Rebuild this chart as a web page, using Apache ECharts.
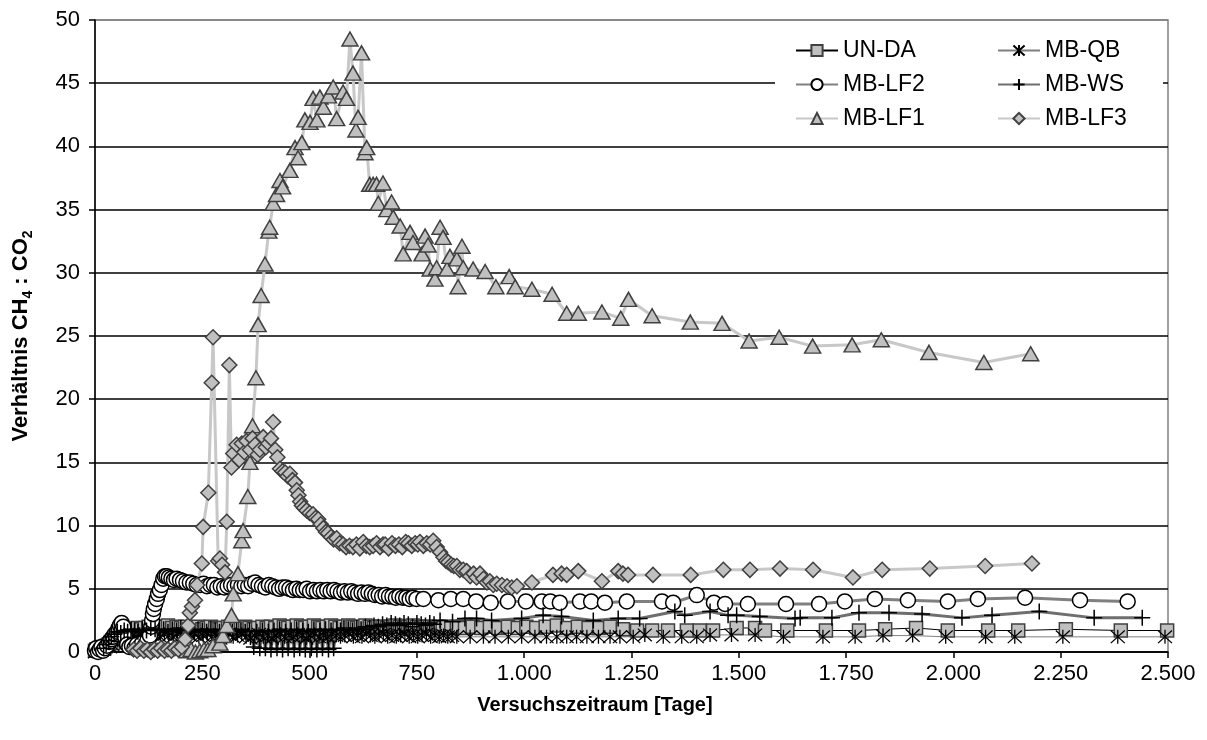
<!DOCTYPE html>
<html>
<head>
<meta charset="utf-8">
<script src="https://cdn.jsdelivr.net/npm/echarts@6/dist/echarts.min.js"></script>
<style>
html,body{margin:0;padding:0;background:#fff;}
#chart{width:1207px;height:740px;}
</style>
</head>
<body>
<div id="chart"></div>
<script>
// ---- data: [Tage, Verhältnis CH4:CO2] ----
const xTicks = [0,250,500,750,1000,1250,1500,1750,2000,2250,2500];
const seriesNames = ['UN-DA','MB-QB','MB-LF2','MB-WS','MB-LF1','MB-LF3'];
const xTitle = 'Versuchszeitraum [Tage]';

const unDA = [[0,0.1],[3,0.2],[6,0.1],[10,0.3],[14,0.2],[18,0.4],[22,0.3],[27,0.5],[32,0.6],[37,0.8],[42,0.7],[48,1.0],[54,1.1],[60,1.3],[66,1.2],[72,1.5],[78,1.6],[85,1.7],[92,1.8],[100,1.9],[108,1.8],[116,1.9],[125,2.0],[134,1.9],[143,2.0],[152,1.9],[161,2.0],[170,2.1],[180,1.9],[190,2.0],[200,1.9],[210,2.0],[220,1.8],[230,1.9],[240,2.0],[250,1.8],[260,1.9],[270,2.0],[280,1.9],[290,1.8],[300,1.9],[310,2.0],[320,1.9],[330,1.8],[340,1.9],[350,2.0],[360,1.9],[370,1.8],[380,1.9],[390,2.0],[400,1.9],[410,2.0],[420,1.9],[430,2.1],[440,2.0],[450,1.9],[460,2.0],[470,2.1],[480,2.0],[490,1.9],[500,2.0],[510,2.1],[520,2.0],[530,1.9],[540,2.0],[550,2.1],[560,2.0],[570,1.9],[580,2.0],[590,2.1],[600,2.0],[610,1.9],[620,2.0],[630,2.1],[640,2.0],[650,1.9],[660,2.0],[670,2.0],[680,1.9],[690,2.0],[700,2.1],[710,2.0],[720,1.9],[730,2.0],[740,2.1],[750,2.0],[760,1.9],[770,2.0],[780,2.0],[790,1.9],[800,2.0],[810,1.9],[820,2.0],[830,1.9],[843,2.0],[862,1.9],[880,2.0],[900,1.9],[920,2.0],[940,1.9],[962,2.0],[985,1.9],[1005,2.0],[1028,1.9],[1050,2.0],[1076,2.1],[1100,1.9],[1125,2.0],[1150,1.9],[1175,1.9],[1200,2.0],[1230,1.8],[1263,1.7],[1298,1.7],[1335,1.7],[1379,1.7],[1409,1.7],[1440,1.7],[1495,1.9],[1538,1.9],[1561,1.7],[1613,1.7],[1703,1.7],[1780,1.7],[1841,1.8],[1913,1.9],[1987,1.7],[2081,1.7],[2151,1.7],[2262,1.8],[2390,1.7],[2498,1.7]];

const mbQB = [[0,0.0],[4,0.1],[8,0.2],[12,0.1],[16,0.3],[20,0.2],[25,0.4],[30,0.5],[35,0.4],[40,0.6],[46,0.8],[52,0.9],[58,1.0],[65,1.1],[72,1.2],[80,1.1],[88,1.3],[96,1.2],[104,1.4],[112,1.3],[122,1.2],[132,1.4],[142,1.3],[152,1.2],[162,1.4],[172,1.3],[182,1.2],[192,1.4],[202,1.3],[212,1.1],[222,1.3],[232,1.4],[242,1.2],[252,1.3],[262,1.4],[272,1.2],[282,1.3],[292,1.1],[302,1.3],[312,1.4],[322,1.2],[332,1.3],[342,1.4],[352,1.2],[362,1.1],[372,1.3],[382,1.4],[392,1.2],[402,1.3],[412,1.1],[422,1.3],[432,1.4],[442,1.2],[452,1.3],[462,1.2],[472,1.4],[482,1.3],[492,1.1],[502,1.3],[512,1.4],[522,1.2],[532,1.3],[542,1.2],[552,1.4],[562,1.3],[572,1.2],[582,1.3],[592,1.4],[602,1.2],[612,1.3],[622,1.2],[632,1.4],[642,1.3],[652,1.2],[662,1.3],[672,1.4],[682,1.2],[692,1.3],[702,1.2],[712,1.3],[722,1.4],[732,1.2],[742,1.3],[752,1.2],[762,1.3],[772,1.4],[782,1.2],[792,1.3],[802,1.2],[812,1.3],[822,1.2],[832,1.3],[843,1.2],[874,1.2],[905,1.2],[932,1.2],[963,1.2],[994,1.2],[1025,1.2],[1052,1.2],[1076,1.2],[1099,1.2],[1122,1.2],[1146,1.2],[1173,1.2],[1200,1.2],[1223,1.2],[1254,1.2],[1281,1.35],[1324,1.2],[1367,1.2],[1402,1.2],[1433,1.35],[1483,1.35],[1538,1.35],[1604,1.2],[1696,1.2],[1771,1.2],[1836,1.3],[1905,1.3],[1982,1.2],[2075,1.2],[2143,1.2],[2255,1.2],[2383,1.2],[2493,1.2]];

const mbLF2 = [[0,0.1],[3,0.3],[7,0.0],[11,0.2],[15,0.4],[19,0.1],[23,0.3],[28,0.5],[33,0.8],[38,1.0],[42,1.2],[46,1.4],[51,1.6],[55,1.9],[58,2.1],[62,2.3],[66,2.0],[70,1.2],[75,0.6],[80,0.4],[86,0.5],[92,0.3],[98,0.6],[104,0.4],[110,0.7],[116,0.5],[122,0.9],[128,1.3],[131,2.0],[133,2.5],[135,3.0],[137,3.4],[140,3.8],[144,4.2],[147,4.6],[151,4.9],[155,5.3],[159,5.8],[163,6.0],[167,6.0],[172,5.9],[178,5.8],[184,5.7],[190,5.8],[198,5.7],[205,5.6],[213,5.5],[221,5.5],[229,5.4],[237,5.3],[245,5.3],[253,5.4],[261,5.2],[269,5.3],[277,5.3],[285,5.1],[293,5.2],[301,5.1],[309,5.2],[317,5.3],[325,5.2],[333,5.3],[341,5.2],[349,5.3],[357,5.2],[365,5.4],[373,5.5],[381,5.3],[389,5.2],[397,5.1],[405,5.3],[413,5.2],[421,5.1],[429,5.0],[437,5.1],[445,5.1],[453,5.0],[461,4.9],[469,5.0],[477,4.9],[485,4.9],[493,5.0],[501,4.8],[509,4.9],[517,4.8],[525,4.9],[533,4.8],[541,4.9],[549,4.8],[557,4.9],[565,4.8],[573,4.7],[581,4.8],[589,4.7],[597,4.8],[605,4.7],[613,4.6],[621,4.7],[629,4.6],[637,4.7],[645,4.6],[653,4.5],[661,4.5],[669,4.4],[677,4.5],[685,4.4],[693,4.4],[701,4.3],[709,4.4],[717,4.3],[725,4.3],[733,4.2],[741,4.3],[749,4.2],[765,4.2],[800,4.1],[829,4.2],[858,4.2],[888,4.0],[922,3.9],[962,4.0],[1004,4.0],[1041,4.0],[1061,4.0],[1083,3.9],[1130,4.0],[1156,4.0],[1188,3.9],[1239,4.0],[1321,4.0],[1347,3.9],[1402,4.5],[1442,3.9],[1468,3.8],[1521,3.8],[1610,3.8],[1687,3.8],[1747,4.0],[1817,4.2],[1894,4.1],[1987,4.0],[2057,4.2],[2167,4.3],[2295,4.1],[2406,4.0]];

const mbWS = [[20,0.3],[26,0.6],[32,0.9],[38,1.2],[45,1.4],[52,1.6],[60,1.5],[68,1.7],[76,1.6],[84,1.8],[92,1.7],[100,1.6],[110,1.8],[120,1.7],[130,1.9],[140,1.8],[150,1.7],[160,1.8],[170,1.6],[180,1.8],[190,1.7],[200,1.9],[210,1.8],[220,1.7],[230,1.6],[240,1.8],[250,1.7],[260,1.6],[270,1.8],[280,1.7],[290,1.6],[300,1.7],[310,1.8],[320,1.6],[330,1.7],[340,1.8],[350,1.6],[360,1.7],[370,0.4],[377,1.6],[384,0.3],[390,1.7],[397,0.3],[404,1.6],[410,0.2],[417,1.7],[424,0.3],[430,1.8],[437,0.2],[444,1.6],[450,0.3],[457,1.7],[464,0.2],[470,1.8],[477,0.3],[484,1.7],[490,0.2],[497,1.6],[504,0.3],[510,1.8],[517,0.2],[524,1.7],[530,0.3],[537,1.8],[544,0.2],[550,1.7],[556,0.3],[563,1.8],[572,1.7],[580,1.9],[590,1.8],[600,1.7],[610,1.9],[620,1.8],[630,2.0],[640,1.9],[650,2.1],[660,2.0],[670,2.2],[680,2.1],[690,2.3],[700,2.2],[710,2.1],[720,2.3],[730,2.2],[740,2.0],[750,2.3],[760,2.2],[770,2.1],[780,2.3],[790,2.2],[804,2.5],[833,2.4],[862,2.65],[889,2.65],[924,2.5],[994,2.65],[1044,2.9],[1087,2.8],[1161,2.5],[1219,2.65],[1269,2.65],[1351,3.2],[1374,2.9],[1433,3.2],[1475,2.9],[1495,2.9],[1549,2.8],[1631,2.65],[1643,2.7],[1717,2.7],[1780,3.1],[1850,3.1],[1927,3.0],[2020,2.7],[2090,2.9],[2200,3.2],[2328,2.7],[2440,2.7]];

const mbLF1 = [[214,0.1],[224,0.2],[234,0.0],[244,0.1],[254,0.2],[263,0.2],[275,0.5],[291,0.7],[298,1.3],[307,2.1],[318,2.9],[322,4.6],[333,6.2],[342,8.8],[345,9.6],[356,12.3],[361,15.0],[367,17.9],[375,21.7],[380,25.9],[387,28.2],[396,30.7],[405,33.3],[407,33.6],[415,35.5],[423,36.2],[431,37.3],[437,36.8],[454,38.1],[466,39.9],[473,39.1],[482,40.3],[489,42.1],[501,41.9],[508,43.8],[517,42.1],[524,43.9],[532,43.1],[544,44.0],[555,44.7],[563,42.2],[578,44.3],[586,43.8],[594,48.5],[601,45.8],[608,41.3],[613,42.3],[621,47.4],[629,39.5],[633,39.9],[640,37.0],[648,37.0],[656,37.0],[660,35.5],[671,37.1],[680,35.0],[691,35.6],[695,34.4],[711,33.7],[718,31.5],[734,33.2],[741,32.4],[762,31.5],[769,32.9],[776,32.2],[781,30.3],[792,29.5],[796,30.4],[804,33.6],[811,32.8],[820,30.3],[827,31.3],[843,31.1],[846,28.9],[855,32.1],[858,30.4],[881,30.3],[909,30.1],[934,28.9],[965,29.7],[979,28.9],[1018,28.7],[1065,28.3],[1099,26.8],[1126,26.8],[1181,26.9],[1225,26.4],[1243,27.9],[1298,26.6],[1387,26.1],[1461,26.0],[1524,24.6],[1594,24.9],[1672,24.2],[1764,24.3],[1832,24.7],[1943,23.7],[2071,22.9],[2180,23.6]];

const mbLF3 = [[90,0.2],[98,0.1],[106,0.3],[114,0.1],[122,0.2],[130,0.0],[138,0.2],[146,0.1],[154,0.3],[162,0.1],[170,0.2],[178,0.1],[186,0.3],[194,0.2],[202,0.4],[210,1.0],[217,2.1],[221,3.1],[226,3.6],[233,4.1],[238,5.3],[249,7.0],[252,9.9],[264,12.6],[272,21.3],[275,24.9],[287,7.2],[291,7.4],[296,6.9],[303,6.3],[307,10.3],[313,22.7],[318,14.6],[322,15.7],[330,16.4],[336,15.2],[342,16.5],[348,15.8],[353,16.7],[361,16.0],[367,16.9],[373,16.4],[379,15.6],[384,16.0],[392,17.0],[398,16.2],[404,16.5],[410,16.9],[415,18.2],[420,16.0],[425,15.4],[431,14.5],[437,14.3],[443,14.2],[449,13.9],[454,14.1],[460,13.6],[466,13.4],[470,12.8],[474,12.4],[478,11.9],[482,11.6],[487,11.4],[493,11.2],[500,11.0],[508,10.9],[514,10.6],[520,10.5],[526,10.1],[532,9.8],[538,9.5],[543,9.4],[550,9.1],[556,8.9],[563,9.0],[570,8.6],[578,8.5],[585,8.3],[593,8.4],[601,8.3],[609,8.5],[617,8.2],[625,8.7],[632,8.4],[640,8.3],[648,8.4],[656,8.6],[664,8.3],[671,8.5],[676,8.5],[684,8.2],[692,8.6],[700,8.4],[708,8.5],[716,8.3],[724,8.7],[730,8.6],[738,8.4],[746,8.6],[752,8.5],[757,8.7],[765,8.4],[773,8.6],[781,8.5],[788,8.8],[796,8.3],[804,7.9],[812,7.5],[818,7.2],[823,7.1],[830,6.9],[836,6.8],[843,6.8],[850,6.5],[858,6.5],[866,6.4],[874,6.0],[882,6.2],[889,5.9],[897,6.2],[905,5.8],[913,5.5],[920,5.6],[928,5.3],[936,5.4],[948,5.3],[960,5.2],[971,5.1],[983,5.2],[1018,5.5],[1067,6.1],[1087,6.2],[1099,6.1],[1126,6.4],[1181,5.6],[1219,6.4],[1230,6.2],[1242,6.1],[1300,6.1],[1388,6.1],[1464,6.5],[1526,6.5],[1596,6.6],[1673,6.5],[1766,5.9],[1834,6.5],[1945,6.6],[2074,6.8],[2183,7.0]];

// ---- chart ----
const FONT = '"Liberation Sans", Arial, sans-serif';
const plusPath = 'path://M0,5L10,5M5,0L5,10';
const starPath = 'path://M0.5,0.5L9.5,9.5M9.5,0.5L0.5,9.5M5,0L5,10';

function fmt(v){ return v >= 1000 ? (v/1000).toFixed(3) : String(v); }

const chart = echarts.init(document.getElementById('chart'), null, {renderer:'canvas'});

function mk(name, data, opt){
  return Object.assign({
    name: name, type: 'line', data: data, showAllSymbol: true,
    animation: false, clip: false
  }, opt);
}

const series = [
  mk(seriesNames[0], unDA, {symbol:'rect', symbolSize:13,
    lineStyle:{color:'#000', width:1},
    itemStyle:{color:'#c0c0c0', borderColor:'#404040', borderWidth:1.5}}),
  mk(seriesNames[1], mbQB, {symbol:starPath, symbolSize:14,
    lineStyle:{color:'#808080', width:1},
    itemStyle:{color:'none', borderColor:'#000', borderWidth:1.3}}),
  mk(seriesNames[2], mbLF2, {symbol:'circle', symbolSize:15,
    lineStyle:{color:'#808080', width:3},
    itemStyle:{color:'#fff', borderColor:'#000', borderWidth:1.5}}),
  mk(seriesNames[3], mbWS, {symbol:plusPath, symbolSize:16,
    lineStyle:{color:'#6e6e6e', width:3},
    itemStyle:{color:'none', borderColor:'#000', borderWidth:1.5}}),
  mk(seriesNames[4], mbLF1, {symbol:'triangle', symbolSize:[16,14],
    lineStyle:{color:'#c8c8c8', width:3},
    itemStyle:{color:'#c0c0c0', borderColor:'#404040', borderWidth:1.5}}),
  mk(seriesNames[5], mbLF3, {symbol:'diamond', symbolSize:15,
    lineStyle:{color:'#c8c8c8', width:3},
    itemStyle:{color:'#c0c0c0', borderColor:'#404040', borderWidth:1.5}})
];

const gridLineColors = ['#000','#000','#000','#000','#000','#000','#000','#000','#000','#000','#808080'];

const legendCommon = {
  orient:'vertical', top: 39, itemWidth: 42, itemHeight: 14, itemGap: 11,
  textStyle:{fontFamily:FONT, fontSize:23, color:'#000', lineHeight:23},
  selectedMode:false, backgroundColor:'transparent', padding:0
};

chart.setOption({
  backgroundColor:'#fff',
  animation:false,
  textStyle:{fontFamily:FONT},
  grid:{left:95, right:39, top:20, bottom:88, show:true, borderColor:'#808080', borderWidth:1.5, backgroundColor:'transparent'},
  graphic:[
    {type:'rect', z:1, shape:{x:775, y:27, width:388, height:112}, style:{fill:'#fff'}},
    {type:'text', z:5, x:595, y:705, style:{text:xTitle, fontFamily:FONT, fontSize:20, fontWeight:'bold', fill:'#000', align:'center', verticalAlign:'middle'}}
  ],
  legend:[
    Object.assign({left:795, data:['UN-DA','MB-LF2','MB-LF1']}, legendCommon),
    Object.assign({left:997, data:['MB-QB','MB-WS','MB-LF3']}, legendCommon)
  ],
  xAxis:{
    type:'value', min:xTicks[0], max:xTicks[xTicks.length-1], interval:250,
    axisLine:{show:true, lineStyle:{color:'#000', width:1.5}},
    axisTick:{show:true, length:6, lineStyle:{color:'#000', width:1.5}},
    axisLabel:{formatter:fmt, fontSize:22, color:'#000', margin:11, fontFamily:FONT},
    splitLine:{show:false}
  },
  yAxis:{
    type:'value', min:0, max:50, interval:5,
    axisLine:{show:true, lineStyle:{color:'#000', width:1.5}},
    axisTick:{show:true, length:6, lineStyle:{color:'#000', width:1.5}},
    axisLabel:{fontSize:22, color:'#000', margin:15, fontFamily:FONT},
    splitLine:{show:true, lineStyle:{color:gridLineColors, width:1.5}},
    name:'{m|Verhältnis CH}{s|4}{m| : CO}{s|2}', nameLocation:'middle', nameGap:60, nameRotate:90,
    nameTextStyle:{color:'#000', fontFamily:FONT,
      rich:{
        m:{fontSize:22, fontWeight:'bold', color:'#000', fontFamily:FONT, lineHeight:28, verticalAlign:'middle'},
        s:{fontSize:14, fontWeight:'bold', color:'#000', fontFamily:FONT, lineHeight:28, verticalAlign:'bottom'}
      }}
  },
  series: series
});
</script>
</body>
</html>
